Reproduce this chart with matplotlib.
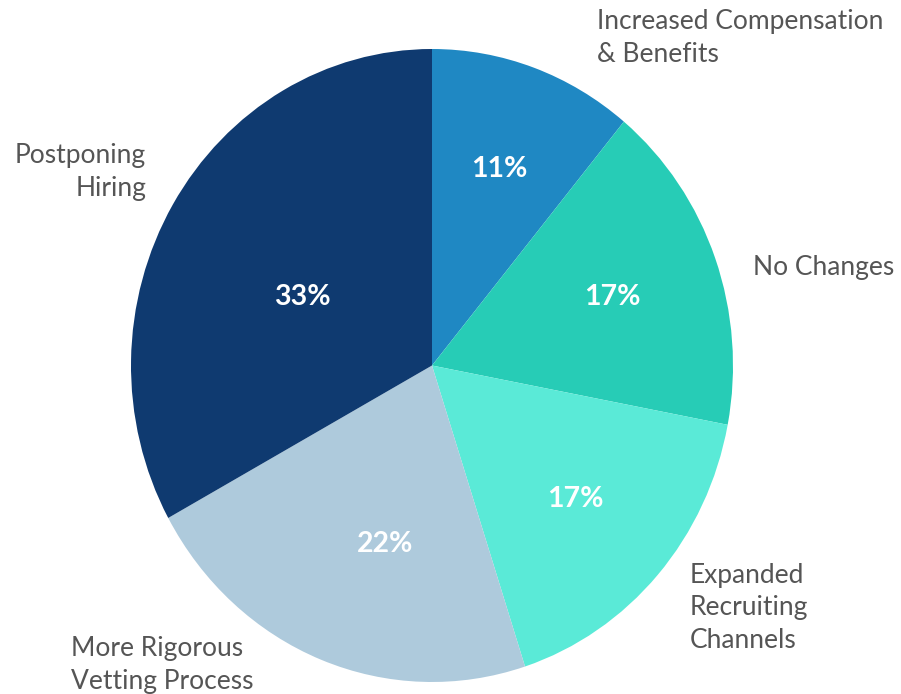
import matplotlib
matplotlib.use("Agg")
import matplotlib.pyplot as plt
import numpy as np

categories = [
    "Increased Compensation\n& Benefits",
    "No Changes",
    "Expanded\nRecruiting\nChannels",
    "More Rigorous\nVetting Process",
    "Postponing\nHiring",
]
shares = [11, 17, 17, 22, 33]
colors = ["#1f88c3", "#27ccb6", "#5aead7", "#aecadc", "#0f3a70"]

W, H = 901, 694
fig = plt.figure(figsize=(W / 100, H / 100), dpi=100)
fig.patch.set_facecolor("white")

# pie box in pixels (left, top, right, bottom)
L, T, R, B = 131, 49, 733, 682
ax = fig.add_axes([L / W, 1 - B / H, (R - L) / W, (B - T) / H])

# radial distance and angular nudge (degrees) for each percentage label
pct_dist = [0.66, 0.636, 0.636, 0.585, 0.48]
pct_nudge = [0, 0, 0, 6, 4]

wedges, _ = ax.pie(shares, colors=colors, startangle=90, counterclock=False,
                   wedgeprops=dict(linewidth=0))
ax.set_aspect("auto")
ax.set_xlim(-1, 1)
ax.set_ylim(-1, 1)
ax.axis("off")

for w, v, d, nudge in zip(wedges, shares, pct_dist, pct_nudge):
    ang = np.deg2rad((w.theta1 + w.theta2) / 2 + nudge)
    ax.text(d * np.cos(ang), d * np.sin(ang), f"{v}%", ha="center", va="center",
            color="white", fontsize=20.5, fontweight="bold", family="Lato")

# outer labels, anchored in pixel coordinates
label_pos = [
    (597, 38, "left"),
    (753, 268, "left"),
    (690, 608, "left"),
    (71, 665, "left"),
    (146, 172, "right"),
]
for text, (x, y, ha) in zip(categories, label_pos):
    fig.text(x / W, 1 - y / H, text, ha=ha, va="center", ma=ha,
             fontsize=19, color="#555555", family="Lato", linespacing=1.36)

fig.savefig("out.png", dpi=100, facecolor="white")
